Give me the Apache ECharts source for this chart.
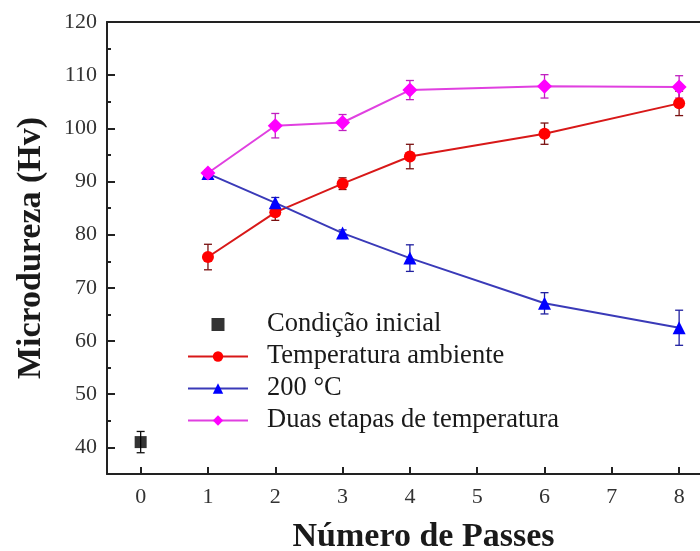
<!DOCTYPE html>
<html>
<head>
<meta charset="utf-8">
<script src="https://cdn.jsdelivr.net/npm/echarts@6/dist/echarts.min.js"></script>
<style>
  html, body { margin: 0; padding: 0; background: #fff; }
  #chart { width: 700px; height: 551px; }
</style>
</head>
<body>
<div id="chart"></div>
<script>
// dados
const seriesNames = ['Condição inicial', 'Temperatura ambiente', '200 °C', 'Duas etapas de temperatura']
const xInicial = [0]
const yInicial = [41]
const errInicial = [2]
const xPasses = [1, 2, 3, 4, 6, 8]
const yAmbiente = [75.8, 84.2, 89.6, 94.7, 99.0, 104.7]
const errAmbiente = [2.4, 1.5, 1.1, 2.3, 2.0, 2.3]
const y200 = [91.5, 86.0, 80.3, 75.6, 67.1, 62.5]
const err200 = [0.5, 1.0, 0.6, 2.5, 2.0, 3.3]
const yDuas = [91.6, 100.5, 101.1, 107.2, 107.9, 107.8]
const errDuas = [0.6, 2.3, 1.5, 1.8, 2.2, 2.1]
const xTicks = [0, 1, 2, 3, 4, 5, 6, 7, 8]
const yTicks = [40, 50, 60, 70, 80, 90, 100, 110, 120]
const yMinorTicks = [45, 55, 65, 75, 85, 95, 105, 115]

const font = "'Liberation Serif', 'Times New Roman', serif"
const axisColor = '#222'

function pairs (xs, ys) {
  return xs.map((x, i) => [x, ys[i]])
}
function errData (xs, ys, es) {
  return xs.map((x, i) => [x, ys[i] - es[i], ys[i] + es[i]])
}
// barra de erro desenhada com as coordenadas do próprio eixo
function errorSeries (data, color) {
  return {
    type: 'custom',
    z: 1,
    silent: true,
    data: data,
    renderItem (params, api) {
      const lo = api.coord([api.value(0), api.value(1)])
      const hi = api.coord([api.value(0), api.value(2)])
      const half = 4
      const style = { stroke: color, lineWidth: 1.3 }
      return {
        type: 'group',
        children: [
          { type: 'line', shape: { x1: lo[0], y1: lo[1], x2: hi[0], y2: hi[1] }, style },
          { type: 'line', shape: { x1: lo[0] - half, y1: lo[1], x2: lo[0] + half, y2: lo[1] }, style },
          { type: 'line', shape: { x1: hi[0] - half, y1: hi[1], x2: hi[0] + half, y2: hi[1] }, style }
        ]
      }
    }
  }
}

const chart = echarts.init(document.getElementById('chart'))
const option = {
  animation: false,
  backgroundColor: '#fff',
  textStyle: { fontFamily: font },
  grid: { left: 107, right: 0, top: 22, bottom: 77, outerBoundsMode: 'none', containLabel: false },
  legend: {
    data: [
      { name: seriesNames[0], icon: 'path://M0,0h10v10h-10z' },
      seriesNames[1], seriesNames[2], seriesNames[3]
    ],
    orient: 'vertical',
    left: 187,
    top: 311,
    padding: 0,
    itemGap: 5,
    itemWidth: 60,
    itemHeight: 13,
    textStyle: { fontFamily: font, fontSize: 26.5, color: '#1a1a1a', padding: [0, 0, 0, 14] }
  },
  xAxis: [
    {
      type: 'value',
      min: -0.5,
      max: 8.31,
      name: 'Número de Passes',
      nameLocation: 'middle',
      nameGap: 46,
      nameTextStyle: { fontFamily: font, fontSize: 34, fontWeight: 'bold', color: '#1a1a1a', padding: [0, 0, 0, 40] },
      axisLine: { onZero: false, lineStyle: { color: axisColor, width: 2 } },
      axisTick: { inside: true, length: 7, customValues: xTicks, lineStyle: { color: axisColor, width: 2 } },
      axisLabel: { customValues: xTicks, fontSize: 22, color: '#333', margin: 12 },
      splitLine: { show: false }
    },
    {
      type: 'value',
      position: 'top',
      min: -0.5,
      max: 8.31,
      axisLine: { onZero: false, lineStyle: { color: axisColor, width: 2 } },
      axisTick: { show: false },
      axisLabel: { show: false },
      splitLine: { show: false }
    }
  ],
  yAxis: [
    {
      type: 'value',
      min: 35,
      max: 120,
      name: 'Microdureza (Hv)',
      nameLocation: 'middle',
      nameGap: 59,
      nameTextStyle: { fontFamily: font, fontSize: 34, fontWeight: 'bold', color: '#1a1a1a' },
      axisLine: { show: true, onZero: false, lineStyle: { color: axisColor, width: 2 } },
      axisTick: { inside: true, length: 8, customValues: yTicks, lineStyle: { color: axisColor, width: 2 } },
      axisLabel: { customValues: yTicks, fontSize: 22, color: '#333', margin: 10 },
      splitLine: { show: false }
    },
    {
      type: 'value',
      min: 35,
      max: 120,
      position: 'left',
      axisLine: { show: false, onZero: false },
      axisTick: { show: true, inside: true, length: 4, customValues: yMinorTicks, lineStyle: { color: axisColor, width: 2 } },
      axisLabel: { show: false },
      splitLine: { show: false }
    }
  ],
  series: [
    errorSeries(errData(xInicial, yInicial, errInicial), '#111'),
    errorSeries(errData(xPasses, yAmbiente, errAmbiente), '#7a1010'),
    errorSeries(errData(xPasses, y200, err200), '#2020a0'),
    errorSeries(errData(xPasses, yDuas, errDuas), '#c020c0'),
    {
      name: seriesNames[0],
      type: 'scatter',
      data: pairs(xInicial, yInicial),
      symbol: 'rect',
      symbolSize: 12,
      itemStyle: { color: '#000' },
      z: 3
    },
    {
      name: seriesNames[1],
      type: 'line',
      data: pairs(xPasses, yAmbiente),
      symbol: 'circle',
      symbolSize: 12,
      itemStyle: { color: '#ff0000' },
      lineStyle: { color: '#d81818', width: 2 },
      z: 3
    },
    {
      name: seriesNames[2],
      type: 'line',
      data: pairs(xPasses, y200),
      symbol: 'triangle',
      symbolSize: 13,
      itemStyle: { color: '#0000ff' },
      lineStyle: { color: '#3a3ab8', width: 2 },
      z: 3
    },
    {
      name: seriesNames[3],
      type: 'line',
      data: pairs(xPasses, yDuas),
      symbol: 'diamond',
      symbolSize: 15,
      itemStyle: { color: '#ff00ff' },
      lineStyle: { color: '#e040e0', width: 2 },
      z: 4
    }
  ]
}
chart.setOption(option)
</script>
</body>
</html>
